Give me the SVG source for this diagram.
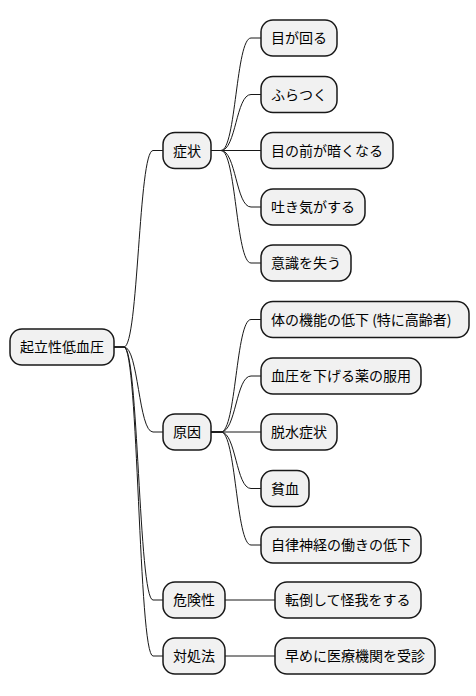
<svg xmlns="http://www.w3.org/2000/svg" width="476" height="696" viewBox="0 0 476 696">
<style>
.n rect{fill:#F1F1F1;stroke:#181818;stroke-width:1.5}
.n text{font-family:"Noto Sans CJK JP","Liberation Sans",sans-serif;font-size:14px;fill:#000000}
.c path{fill:none;stroke:#181818;stroke-width:1}
</style>
<rect width="476" height="696" fill="#FFFFFF"/>
<g id="connectors" class="c">
<path d="M114,347 L124,347 C138.5,347 138.5,150.5 153,150.5 L163,150.5"/>
<path d="M114,347 L124,347 C138.5,347 138.5,432 153,432 L163,432"/>
<path d="M114,347 L124,347 C138.5,347 138.5,600 153,600 L163,600"/>
<path d="M114,347 L124,347 C138.5,347 138.5,656 153,656 L163,656"/>
<path d="M211,150.5 L221,150.5 C236,150.5 236,38 251,38 L261,38"/>
<path d="M211,150.5 L221,150.5 C236,150.5 236,94.5 251,94.5 L261,94.5"/>
<path d="M211,150.5 L261,150.5"/>
<path d="M211,150.5 L221,150.5 C236,150.5 236,207 251,207 L261,207"/>
<path d="M211,150.5 L221,150.5 C236,150.5 236,263 251,263 L261,263"/>
<path d="M211,432 L221,432 C236,432 236,319.5 251,319.5 L261,319.5"/>
<path d="M211,432 L221,432 C236,432 236,376 251,376 L261,376"/>
<path d="M211,432 L261,432"/>
<path d="M211,432 L221,432 C236,432 236,488.5 251,488.5 L261,488.5"/>
<path d="M211,432 L221,432 C236,432 236,545 251,545 L261,545"/>
<path d="M225,600 L275,600"/>
<path d="M225,656 L275,656"/>
</g>
<g id="root" class="n"><rect x="10" y="329" width="104" height="36" rx="12"/><text x="20" y="352">起立性低血圧</text></g>
<g id="shojo" class="n"><rect x="163" y="132.5" width="48" height="36" rx="12"/><text x="173" y="155.5">症状</text></g>
<g id="genin" class="n"><rect x="163" y="414" width="48" height="36" rx="12"/><text x="173" y="437">原因</text></g>
<g id="kikensei" class="n"><rect x="163" y="582" width="62" height="36" rx="12"/><text x="173" y="605">危険性</text></g>
<g id="taishoho" class="n"><rect x="163" y="638" width="62" height="36" rx="12"/><text x="173" y="661">対処法</text></g>
<g id="s1" class="n"><rect x="261" y="20" width="76" height="36" rx="12"/><text x="271" y="43">目が回る</text></g>
<g id="s2" class="n"><rect x="261" y="76.5" width="76" height="36" rx="12"/><text x="271" y="99.5">ふらつく</text></g>
<g id="s3" class="n"><rect x="261" y="132.5" width="132" height="36" rx="12"/><text x="271" y="155.5">目の前が暗くなる</text></g>
<g id="s4" class="n"><rect x="261" y="189" width="104" height="36" rx="12"/><text x="271" y="212">吐き気がする</text></g>
<g id="s5" class="n"><rect x="261" y="245" width="90" height="36" rx="12"/><text x="271" y="268">意識を失う</text></g>
<g id="g1" class="n"><rect x="261" y="301.5" width="208" height="36" rx="12"/><text x="271" y="324.5">体の機能の低下 (特に高齢者)</text></g>
<g id="g2" class="n"><rect x="261" y="358" width="160" height="36" rx="12"/><text x="271" y="381">血圧を下げる薬の服用</text></g>
<g id="g3" class="n"><rect x="261" y="414" width="76" height="36" rx="12"/><text x="271" y="437">脱水症状</text></g>
<g id="g4" class="n"><rect x="261" y="470.5" width="48" height="36" rx="12"/><text x="271" y="493.5">貧血</text></g>
<g id="g5" class="n"><rect x="261" y="527" width="160" height="36" rx="12"/><text x="271" y="550">自律神経の働きの低下</text></g>
<g id="k1" class="n"><rect x="275" y="582" width="146" height="36" rx="12"/><text x="285" y="605">転倒して怪我をする</text></g>
<g id="t1" class="n"><rect x="275" y="638" width="160" height="36" rx="12"/><text x="285" y="661">早めに医療機関を受診</text></g>
</svg>
